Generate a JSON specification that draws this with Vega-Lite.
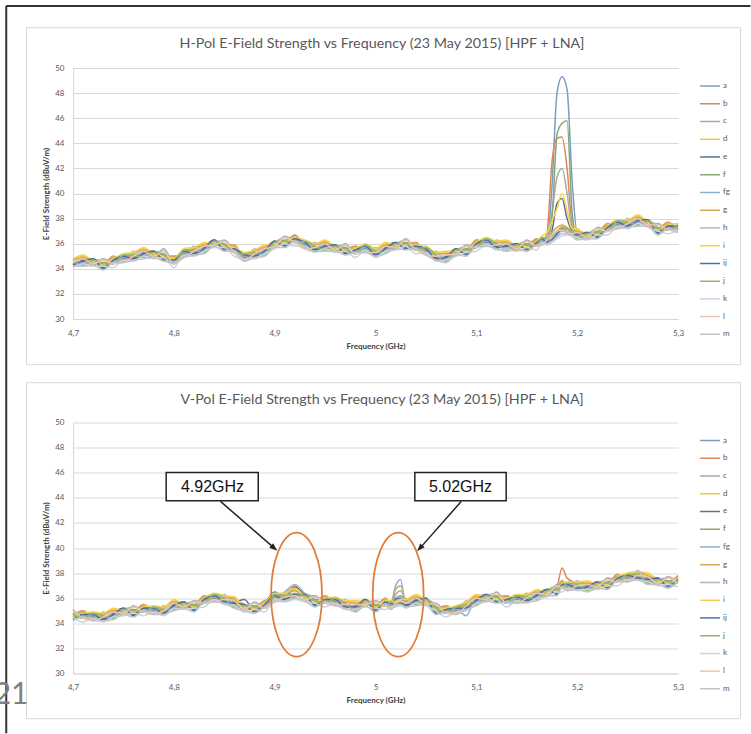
{
  "$schema": "https://vega.github.io/schema/vega-lite/v6.json",
  "background": "white",
  "padding": {"left": -7, "top": 4, "right": 0, "bottom": 0},
  "config": {
    "font": "Lato",
    "view": {"stroke": null},
    "axis": {"labelFont": "Lato", "labelFontSize": 8, "labelColor": "#595959", "titleFont": "Lato", "titleFontSize": 8, "titleFontWeight": "bold", "titleColor": "#404040", "ticks": false, "domainColor": "#d9d9d9", "gridColor": "#d9d9d9", "labelOverlap": false},
    "legend": {"labelFont": "Lato", "labelFontSize": 8, "labelColor": "#595959"}
  },
  "bounds": "flush",
  "spacing": 103.5,
  "resolve": {"legend": {"color": "independent"}},
  "datasets": {
    "H": [
      {"freq":4.70,"a":34.6,"b":34.3,"c":34.8,"d":34.7,"e":34.4,"f":34.5,"fg":34.2,"g":34.7,"h":34.9,"i":34.8,"ij":34.3,"j":34.6,"k":34.1,"l":34.5,"m":34.2},
      {"freq":4.71,"a":34.3,"b":34.8,"c":34.6,"d":35.0,"e":34.7,"f":34.4,"fg":34.8,"g":34.9,"h":34.5,"i":35.1,"ij":34.6,"j":34.3,"k":34.4,"l":34.8,"m":34.2},
      {"freq":4.72,"a":34.7,"b":34.8,"c":34.3,"d":34.6,"e":34.8,"f":34.7,"fg":34.4,"g":34.5,"h":34.7,"i":34.6,"ij":34.8,"j":34.7,"k":34.2,"l":34.4,"m":34.3},
      {"freq":4.73,"a":34.3,"b":34.4,"c":34.8,"d":34.2,"e":34.1,"f":34.5,"fg":34.4,"g":34.2,"h":34.7,"i":34.3,"ij":34.0,"j":34.4,"k":34.2,"l":34.7,"m":33.9},
      {"freq":4.74,"a":34.6,"b":35.0,"c":34.5,"d":34.9,"e":34.8,"f":34.5,"fg":34.4,"g":35.0,"h":34.6,"i":34.8,"ij":34.7,"j":34.4,"k":34.1,"l":34.4,"m":34.5},
      {"freq":4.75,"a":35.1,"b":34.7,"c":34.9,"d":34.8,"e":34.8,"f":35.1,"fg":34.9,"g":34.7,"h":34.6,"i":35.2,"ij":35.0,"j":35.1,"k":34.7,"l":34.5,"m":34.5},
      {"freq":4.76,"a":35.1,"b":34.8,"c":35.3,"d":35.2,"e":34.9,"f":35.0,"fg":34.7,"g":35.2,"h":35.4,"i":35.3,"ij":34.8,"j":35.1,"k":34.6,"l":35.0,"m":34.7},
      {"freq":4.77,"a":34.9,"b":35.4,"c":35.2,"d":35.6,"e":35.3,"f":35.0,"fg":35.4,"g":35.5,"h":35.1,"i":35.7,"ij":35.2,"j":34.9,"k":35.0,"l":35.4,"m":34.8},
      {"freq":4.78,"a":35.3,"b":35.4,"c":34.9,"d":35.2,"e":35.4,"f":35.3,"fg":35.0,"g":35.1,"h":35.3,"i":35.2,"ij":35.4,"j":35.3,"k":34.8,"l":35.0,"m":34.9},
      {"freq":4.79,"a":35.0,"b":35.1,"c":35.6,"d":34.9,"e":34.8,"f":35.2,"fg":35.1,"g":34.9,"h":35.4,"i":35.0,"ij":34.7,"j":35.1,"k":34.9,"l":35.4,"m":34.6},
      {"freq":4.80,"a":34.6,"b":35.0,"c":34.5,"d":34.9,"e":34.8,"f":34.5,"fg":34.4,"g":35.0,"h":34.6,"i":34.8,"ij":34.7,"j":34.4,"k":34.1,"l":34.4,"m":34.5},
      {"freq":4.81,"a":35.5,"b":35.1,"c":35.3,"d":35.2,"e":35.2,"f":35.5,"fg":35.3,"g":35.1,"h":35.0,"i":35.6,"ij":35.4,"j":35.5,"k":35.1,"l":34.9,"m":34.9},
      {"freq":4.82,"a":35.5,"b":35.2,"c":35.7,"d":35.6,"e":35.3,"f":35.4,"fg":35.1,"g":35.6,"h":35.8,"i":35.7,"ij":35.2,"j":35.5,"k":35.0,"l":35.4,"m":35.1},
      {"freq":4.83,"a":35.3,"b":35.8,"c":35.6,"d":36.0,"e":35.7,"f":35.4,"fg":35.8,"g":35.9,"h":35.5,"i":36.1,"ij":35.6,"j":35.3,"k":35.4,"l":35.8,"m":35.2},
      {"freq":4.84,"a":36.2,"b":36.3,"c":35.8,"d":36.1,"e":36.3,"f":36.2,"fg":35.9,"g":36.0,"h":36.2,"i":36.1,"ij":36.3,"j":36.2,"k":35.7,"l":35.9,"m":35.8},
      {"freq":4.85,"a":35.8,"b":35.9,"c":36.3,"d":35.7,"e":35.6,"f":36.0,"fg":35.9,"g":35.7,"h":36.2,"i":35.8,"ij":35.5,"j":35.9,"k":35.7,"l":36.2,"m":35.4},
      {"freq":4.86,"a":35.5,"b":35.9,"c":35.4,"d":35.8,"e":35.7,"f":35.4,"fg":35.3,"g":35.9,"h":35.5,"i":35.7,"ij":35.6,"j":35.3,"k":35.0,"l":35.3,"m":35.4},
      {"freq":4.87,"a":35.2,"b":34.8,"c":35.0,"d":34.9,"e":34.9,"f":35.2,"fg":35.0,"g":34.8,"h":34.7,"i":35.3,"ij":35.1,"j":35.2,"k":34.8,"l":34.6,"m":34.6},
      {"freq":4.88,"a":35.3,"b":35.0,"c":35.5,"d":35.4,"e":35.1,"f":35.2,"fg":34.9,"g":35.4,"h":35.6,"i":35.5,"ij":35.0,"j":35.3,"k":34.8,"l":35.2,"m":34.9},
      {"freq":4.89,"a":35.1,"b":35.6,"c":35.4,"d":35.8,"e":35.5,"f":35.2,"fg":35.6,"g":35.7,"h":35.3,"i":35.9,"ij":35.4,"j":35.1,"k":35.2,"l":35.6,"m":35.0},
      {"freq":4.90,"a":36.1,"b":36.2,"c":35.7,"d":36.0,"e":36.2,"f":36.1,"fg":35.8,"g":35.9,"h":36.1,"i":36.0,"ij":36.2,"j":36.1,"k":35.6,"l":35.8,"m":35.7},
      {"freq":4.91,"a":36.1,"b":36.2,"c":36.6,"d":36.0,"e":35.9,"f":36.3,"fg":36.2,"g":36.0,"h":36.5,"i":36.1,"ij":35.8,"j":36.2,"k":36.0,"l":36.5,"m":35.7},
      {"freq":4.92,"a":36.3,"b":36.7,"c":36.2,"d":36.6,"e":36.5,"f":36.2,"fg":36.1,"g":36.7,"h":36.3,"i":36.5,"ij":36.4,"j":36.1,"k":35.8,"l":36.1,"m":36.2},
      {"freq":4.93,"a":36.2,"b":35.8,"c":36.0,"d":35.9,"e":35.9,"f":36.2,"fg":36.0,"g":35.8,"h":35.7,"i":36.3,"ij":36.1,"j":36.2,"k":35.8,"l":35.6,"m":35.6},
      {"freq":4.94,"a":35.8,"b":35.5,"c":36.0,"d":35.9,"e":35.6,"f":35.7,"fg":35.4,"g":35.9,"h":36.1,"i":36.0,"ij":35.5,"j":35.8,"k":35.3,"l":35.7,"m":35.4},
      {"freq":4.95,"a":35.5,"b":36.0,"c":35.8,"d":36.2,"e":35.9,"f":35.6,"fg":36.0,"g":36.1,"h":35.7,"i":36.3,"ij":35.8,"j":35.5,"k":35.6,"l":36.0,"m":35.4},
      {"freq":4.96,"a":35.8,"b":35.9,"c":35.4,"d":35.7,"e":35.9,"f":35.8,"fg":35.5,"g":35.6,"h":35.8,"i":35.7,"ij":35.9,"j":35.8,"k":35.3,"l":35.5,"m":35.4},
      {"freq":4.97,"a":35.5,"b":35.6,"c":36.0,"d":35.4,"e":35.3,"f":35.7,"fg":35.6,"g":35.4,"h":35.9,"i":35.5,"ij":35.2,"j":35.6,"k":35.4,"l":35.9,"m":35.1},
      {"freq":4.98,"a":35.4,"b":35.8,"c":35.3,"d":35.7,"e":35.6,"f":35.3,"fg":35.2,"g":35.8,"h":35.4,"i":35.6,"ij":35.5,"j":35.2,"k":34.9,"l":35.2,"m":35.3},
      {"freq":4.99,"a":35.9,"b":35.5,"c":35.7,"d":35.6,"e":35.6,"f":35.9,"fg":35.7,"g":35.5,"h":35.4,"i":36.0,"ij":35.8,"j":35.9,"k":35.5,"l":35.3,"m":35.3},
      {"freq":5.00,"a":35.4,"b":35.1,"c":35.6,"d":35.5,"e":35.2,"f":35.3,"fg":35.0,"g":35.5,"h":35.7,"i":35.6,"ij":35.1,"j":35.4,"k":34.9,"l":35.3,"m":35.0},
      {"freq":5.01,"a":35.3,"b":35.8,"c":35.6,"d":36.0,"e":35.7,"f":35.4,"fg":35.8,"g":35.9,"h":35.5,"i":36.1,"ij":35.6,"j":35.3,"k":35.4,"l":35.8,"m":35.2},
      {"freq":5.02,"a":36.0,"b":36.1,"c":35.6,"d":35.9,"e":36.1,"f":36.0,"fg":35.7,"g":35.8,"h":36.0,"i":35.9,"ij":36.1,"j":36.0,"k":35.5,"l":35.7,"m":35.6},
      {"freq":5.03,"a":35.9,"b":36.0,"c":36.4,"d":35.8,"e":35.7,"f":36.1,"fg":36.0,"g":35.8,"h":36.3,"i":35.9,"ij":35.6,"j":36.0,"k":35.8,"l":36.3,"m":35.5},
      {"freq":5.04,"a":35.7,"b":36.1,"c":35.6,"d":36.0,"e":35.9,"f":35.6,"fg":35.5,"g":36.1,"h":35.7,"i":35.9,"ij":35.8,"j":35.5,"k":35.2,"l":35.5,"m":35.6},
      {"freq":5.05,"a":35.7,"b":35.3,"c":35.5,"d":35.4,"e":35.4,"f":35.7,"fg":35.5,"g":35.3,"h":35.2,"i":35.8,"ij":35.6,"j":35.7,"k":35.3,"l":35.1,"m":35.1},
      {"freq":5.06,"a":35.1,"b":34.8,"c":35.3,"d":35.2,"e":34.9,"f":35.0,"fg":34.7,"g":35.2,"h":35.4,"i":35.3,"ij":34.8,"j":35.1,"k":34.6,"l":35.0,"m":34.7},
      {"freq":5.07,"a":34.6,"b":35.1,"c":34.9,"d":35.3,"e":35.0,"f":34.7,"fg":35.1,"g":35.2,"h":34.8,"i":35.4,"ij":34.9,"j":34.6,"k":34.7,"l":35.1,"m":34.5},
      {"freq":5.08,"a":35.5,"b":35.6,"c":35.1,"d":35.4,"e":35.6,"f":35.5,"fg":35.2,"g":35.3,"h":35.5,"i":35.4,"ij":35.6,"j":35.5,"k":35.0,"l":35.2,"m":35.1},
      {"freq":5.09,"a":35.4,"b":35.5,"c":35.9,"d":35.3,"e":35.2,"f":35.6,"fg":35.5,"g":35.3,"h":35.8,"i":35.4,"ij":35.1,"j":35.5,"k":35.3,"l":35.8,"m":35.0},
      {"freq":5.10,"a":35.9,"b":36.3,"c":35.8,"d":36.2,"e":36.1,"f":35.8,"fg":35.7,"g":36.3,"h":35.9,"i":36.1,"ij":36.0,"j":35.7,"k":35.4,"l":35.7,"m":35.8},
      {"freq":5.11,"a":36.4,"b":36.0,"c":36.2,"d":36.1,"e":36.1,"f":36.4,"fg":36.2,"g":36.0,"h":35.9,"i":36.5,"ij":36.3,"j":36.4,"k":36.0,"l":35.8,"m":35.8},
      {"freq":5.12,"a":36.0,"b":35.7,"c":36.2,"d":36.1,"e":35.8,"f":35.9,"fg":35.6,"g":36.1,"h":36.3,"i":36.2,"ij":35.7,"j":36.0,"k":35.5,"l":35.9,"m":35.6},
      {"freq":5.13,"a":35.5,"b":36.0,"c":35.8,"d":36.2,"e":35.9,"f":35.6,"fg":36.0,"g":36.1,"h":35.7,"i":36.3,"ij":35.8,"j":35.5,"k":35.6,"l":36.0,"m":35.4},
      {"freq":5.14,"a":35.9,"b":36.0,"c":35.5,"d":35.8,"e":36.0,"f":35.9,"fg":35.6,"g":35.7,"h":35.9,"i":35.8,"ij":36.0,"j":35.9,"k":35.4,"l":35.6,"m":35.5},
      {"freq":5.15,"a":35.8,"b":35.9,"c":36.3,"d":35.7,"e":35.6,"f":36.0,"fg":35.9,"g":35.7,"h":36.2,"i":35.8,"ij":35.5,"j":35.9,"k":35.7,"l":36.2,"m":35.4},
      {"freq":5.16,"a":36.0,"b":36.4,"c":35.9,"d":36.3,"e":36.2,"f":35.9,"fg":35.8,"g":36.4,"h":36.0,"i":36.2,"ij":36.1,"j":35.8,"k":35.5,"l":35.8,"m":35.9},
      {"freq":5.165,"a":36.5,"b":36.1,"c":36.3,"d":36.2,"e":36.2,"f":36.5,"fg":36.3,"g":36.1,"h":36.0,"i":36.6,"ij":36.4,"j":36.5,"k":36.1,"l":35.9,"m":35.9},
      {"freq":5.17,"a":36.4,"b":36.8,"c":36.6,"d":36.5,"e":36.2,"f":36.3,"fg":36.0,"g":36.5,"h":36.7,"i":36.9,"ij":36.1,"j":36.4,"k":35.9,"l":36.3,"m":36.0},
      {"freq":5.175,"a":40.5,"b":42.5,"c":38.5,"d":36.8,"e":37.0,"f":38.0,"fg":36.4,"g":36.9,"h":36.6,"i":37.8,"ij":36.3,"j":36.6,"k":36.1,"l":36.7,"m":36.2},
      {"freq":5.18,"a":48.0,"b":44.4,"c":41.3,"d":37.0,"e":39.2,"f":44.7,"fg":36.6,"g":37.3,"h":36.9,"i":38.8,"ij":36.8,"j":37.0,"k":36.4,"l":37.0,"m":36.5},
      {"freq":5.185,"a":49.3,"b":44.5,"c":42.0,"d":37.4,"e":39.6,"f":45.6,"fg":37.1,"g":37.5,"h":37.0,"i":40.0,"ij":37.2,"j":37.3,"k":36.6,"l":37.1,"m":36.8},
      {"freq":5.19,"a":48.3,"b":42.0,"c":40.0,"d":37.2,"e":38.0,"f":45.8,"fg":37.2,"g":37.3,"h":36.9,"i":38.6,"ij":37.0,"j":37.2,"k":36.7,"l":37.0,"m":36.8},
      {"freq":5.195,"a":41.0,"b":37.6,"c":37.2,"d":36.9,"e":37.0,"f":38.5,"fg":36.9,"g":37.0,"h":36.8,"i":37.2,"ij":36.8,"j":36.9,"k":36.6,"l":36.8,"m":36.6},
      {"freq":5.20,"a":36.9,"b":36.9,"c":36.7,"d":37.1,"e":36.8,"f":36.5,"fg":36.9,"g":37.0,"h":36.6,"i":37.2,"ij":36.7,"j":36.4,"k":36.5,"l":36.9,"m":36.3},
      {"freq":5.21,"a":36.8,"b":36.9,"c":36.4,"d":36.7,"e":36.9,"f":36.8,"fg":36.5,"g":36.6,"h":36.8,"i":36.7,"ij":36.9,"j":36.8,"k":36.3,"l":36.5,"m":36.4},
      {"freq":5.22,"a":36.8,"b":36.9,"c":37.3,"d":36.7,"e":36.6,"f":37.0,"fg":36.9,"g":36.7,"h":37.2,"i":36.8,"ij":36.5,"j":36.9,"k":36.7,"l":37.2,"m":36.4},
      {"freq":5.23,"a":37.2,"b":37.6,"c":37.1,"d":37.5,"e":37.4,"f":37.1,"fg":37.0,"g":37.6,"h":37.2,"i":37.4,"ij":37.3,"j":37.0,"k":36.7,"l":37.0,"m":37.1},
      {"freq":5.24,"a":37.8,"b":37.4,"c":37.6,"d":37.5,"e":37.5,"f":37.8,"fg":37.6,"g":37.4,"h":37.3,"i":37.9,"ij":37.7,"j":37.8,"k":37.4,"l":37.2,"m":37.2},
      {"freq":5.25,"a":37.7,"b":37.4,"c":37.9,"d":37.8,"e":37.5,"f":37.6,"fg":37.3,"g":37.8,"h":38.0,"i":37.9,"ij":37.4,"j":37.7,"k":37.2,"l":37.6,"m":37.3},
      {"freq":5.26,"a":37.5,"b":38.0,"c":37.8,"d":38.2,"e":37.9,"f":37.6,"fg":38.0,"g":38.1,"h":37.7,"i":38.3,"ij":37.8,"j":37.5,"k":37.6,"l":38.0,"m":37.4},
      {"freq":5.27,"a":37.8,"b":37.9,"c":37.4,"d":37.7,"e":37.9,"f":37.8,"fg":37.5,"g":37.6,"h":37.8,"i":37.7,"ij":37.9,"j":37.8,"k":37.3,"l":37.5,"m":37.4},
      {"freq":5.28,"a":37.1,"b":37.2,"c":37.6,"d":37.0,"e":36.9,"f":37.3,"fg":37.2,"g":37.0,"h":37.5,"i":37.1,"ij":36.8,"j":37.2,"k":37.0,"l":37.5,"m":36.7},
      {"freq":5.29,"a":37.3,"b":37.7,"c":37.2,"d":37.6,"e":37.5,"f":37.2,"fg":37.1,"g":37.7,"h":37.3,"i":37.5,"ij":37.4,"j":37.1,"k":36.8,"l":37.1,"m":37.2},
      {"freq":5.30,"a":37.5,"b":37.1,"c":37.3,"d":37.2,"e":37.2,"f":37.5,"fg":37.3,"g":37.1,"h":37.0,"i":37.6,"ij":37.4,"j":37.5,"k":37.1,"l":36.9,"m":36.9}
    ],
    "V": [
      {"freq":4.70,"a":34.6,"b":34.7,"c":35.1,"d":34.5,"e":34.4,"f":34.8,"fg":34.7,"g":34.5,"h":35.0,"i":34.6,"ij":34.3,"j":34.7,"k":34.5,"l":35.0,"m":34.2},
      {"freq":4.71,"a":34.6,"b":35.0,"c":34.5,"d":34.9,"e":34.8,"f":34.5,"fg":34.4,"g":35.0,"h":34.6,"i":34.8,"ij":34.7,"j":34.4,"k":34.1,"l":34.4,"m":34.5},
      {"freq":4.72,"a":34.8,"b":34.4,"c":34.6,"d":34.5,"e":34.5,"f":34.8,"fg":34.6,"g":34.4,"h":34.3,"i":34.9,"ij":34.7,"j":34.8,"k":34.4,"l":34.2,"m":34.2},
      {"freq":4.73,"a":34.6,"b":34.3,"c":34.8,"d":34.7,"e":34.4,"f":34.5,"fg":34.2,"g":34.7,"h":34.9,"i":34.8,"ij":34.3,"j":34.6,"k":34.1,"l":34.5,"m":34.2},
      {"freq":4.74,"a":34.4,"b":34.9,"c":34.7,"d":35.1,"e":34.8,"f":34.5,"fg":34.9,"g":35.0,"h":34.6,"i":35.2,"ij":34.7,"j":34.4,"k":34.5,"l":34.9,"m":34.3},
      {"freq":4.75,"a":35.1,"b":35.2,"c":34.7,"d":35.0,"e":35.2,"f":35.1,"fg":34.8,"g":34.9,"h":35.1,"i":35.0,"ij":35.2,"j":35.1,"k":34.6,"l":34.8,"m":34.7},
      {"freq":4.76,"a":34.9,"b":35.0,"c":35.4,"d":34.8,"e":34.7,"f":35.1,"fg":35.0,"g":34.8,"h":35.3,"i":34.9,"ij":34.6,"j":35.0,"k":34.8,"l":35.3,"m":34.5},
      {"freq":4.77,"a":35.1,"b":35.5,"c":35.0,"d":35.4,"e":35.3,"f":35.0,"fg":34.9,"g":35.5,"h":35.1,"i":35.3,"ij":35.2,"j":34.9,"k":34.6,"l":34.9,"m":35.0},
      {"freq":4.78,"a":35.3,"b":34.9,"c":35.1,"d":35.0,"e":35.0,"f":35.3,"fg":35.1,"g":34.9,"h":34.8,"i":35.4,"ij":35.2,"j":35.3,"k":34.9,"l":34.7,"m":34.7},
      {"freq":4.79,"a":35.1,"b":34.8,"c":35.3,"d":35.2,"e":34.9,"f":35.0,"fg":34.7,"g":35.2,"h":35.4,"i":35.3,"ij":34.8,"j":35.1,"k":34.6,"l":35.0,"m":34.7},
      {"freq":4.80,"a":35.1,"b":35.6,"c":35.4,"d":35.8,"e":35.5,"f":35.2,"fg":35.6,"g":35.7,"h":35.3,"i":35.9,"ij":35.4,"j":35.1,"k":35.2,"l":35.6,"m":35.0},
      {"freq":4.81,"a":35.6,"b":35.7,"c":35.2,"d":35.5,"e":35.7,"f":35.6,"fg":35.3,"g":35.4,"h":35.6,"i":35.5,"ij":35.7,"j":35.6,"k":35.1,"l":35.3,"m":35.2},
      {"freq":4.82,"a":35.3,"b":35.4,"c":35.8,"d":35.2,"e":35.1,"f":35.5,"fg":35.4,"g":35.2,"h":35.7,"i":35.3,"ij":35.0,"j":35.4,"k":35.2,"l":35.7,"m":34.9},
      {"freq":4.83,"a":35.8,"b":36.2,"c":35.7,"d":36.1,"e":36.0,"f":35.7,"fg":35.6,"g":36.2,"h":35.8,"i":36.0,"ij":35.9,"j":35.6,"k":35.3,"l":35.6,"m":35.7},
      {"freq":4.84,"a":36.3,"b":35.9,"c":36.1,"d":36.0,"e":36.0,"f":36.3,"fg":36.1,"g":35.9,"h":35.8,"i":36.4,"ij":36.2,"j":36.3,"k":35.9,"l":35.7,"m":35.7},
      {"freq":4.85,"a":36.0,"b":35.7,"c":36.2,"d":36.1,"e":35.8,"f":35.9,"fg":35.6,"g":36.1,"h":36.3,"i":36.2,"ij":35.7,"j":36.0,"k":35.5,"l":35.9,"m":35.6},
      {"freq":4.86,"a":35.3,"b":35.8,"c":35.6,"d":36.0,"e":35.7,"f":35.4,"fg":36.1,"g":35.9,"h":35.5,"i":36.1,"ij":35.6,"j":35.3,"k":35.4,"l":35.8,"m":35.2},
      {"freq":4.87,"a":35.4,"b":35.5,"c":35.0,"d":35.3,"e":35.9,"f":35.4,"fg":35.1,"g":35.2,"h":35.4,"i":35.3,"ij":35.5,"j":35.4,"k":34.9,"l":35.1,"m":35.0},
      {"freq":4.88,"a":35.2,"b":35.3,"c":35.7,"d":35.1,"e":35.0,"f":35.4,"fg":35.3,"g":35.1,"h":35.6,"i":35.2,"ij":34.9,"j":35.3,"k":35.1,"l":35.6,"m":34.8},
      {"freq":4.89,"a":35.4,"b":35.8,"c":35.3,"d":35.7,"e":35.6,"f":35.3,"fg":35.2,"g":35.8,"h":35.4,"i":35.6,"ij":35.5,"j":35.2,"k":34.9,"l":35.2,"m":35.3},
      {"freq":4.90,"a":36.3,"b":35.9,"c":36.1,"d":36.0,"e":36.5,"f":36.3,"fg":36.1,"g":35.9,"h":35.8,"i":36.4,"ij":36.2,"j":36.3,"k":35.9,"l":35.7,"m":35.7},
      {"freq":4.91,"a":36.2,"b":35.9,"c":36.4,"d":36.3,"e":36.0,"f":36.1,"fg":35.8,"g":36.3,"h":36.5,"i":36.4,"ij":35.9,"j":36.2,"k":35.7,"l":36.1,"m":35.8},
      {"freq":4.92,"a":36.3,"b":36.1,"c":37.0,"d":36.7,"e":36.9,"f":36.2,"fg":36.0,"g":36.6,"h":37.1,"i":36.8,"ij":36.3,"j":36.4,"k":35.9,"l":36.2,"m":36.0},
      {"freq":4.93,"a":36.2,"b":36.3,"c":36.2,"d":36.1,"e":36.3,"f":36.2,"fg":35.9,"g":36.0,"h":36.4,"i":36.1,"ij":36.3,"j":36.2,"k":35.7,"l":35.9,"m":35.8},
      {"freq":4.94,"a":35.7,"b":35.8,"c":36.2,"d":35.6,"e":35.5,"f":35.9,"fg":35.8,"g":35.6,"h":36.1,"i":35.7,"ij":35.4,"j":35.8,"k":35.6,"l":36.1,"m":35.3},
      {"freq":4.95,"a":35.8,"b":36.2,"c":35.7,"d":36.1,"e":36.0,"f":35.7,"fg":35.6,"g":36.2,"h":35.8,"i":36.0,"ij":35.9,"j":35.6,"k":35.3,"l":35.6,"m":35.7},
      {"freq":4.96,"a":36.0,"b":35.6,"c":35.8,"d":35.7,"e":35.7,"f":36.0,"fg":35.8,"g":35.6,"h":35.5,"i":36.1,"ij":35.9,"j":36.0,"k":35.6,"l":35.4,"m":35.4},
      {"freq":4.97,"a":35.6,"b":35.3,"c":35.8,"d":35.7,"e":35.4,"f":35.5,"fg":35.2,"g":35.7,"h":35.9,"i":35.8,"ij":35.3,"j":35.6,"k":35.1,"l":35.5,"m":35.2},
      {"freq":4.98,"a":35.0,"b":35.5,"c":35.3,"d":35.7,"e":35.4,"f":35.1,"fg":35.5,"g":35.6,"h":35.2,"i":35.8,"ij":35.3,"j":35.0,"k":35.1,"l":35.5,"m":34.9},
      {"freq":4.99,"a":35.8,"b":35.9,"c":35.4,"d":35.7,"e":35.9,"f":35.8,"fg":35.5,"g":35.6,"h":35.8,"i":35.7,"ij":35.9,"j":35.8,"k":35.3,"l":35.5,"m":35.4},
      {"freq":5.00,"a":35.3,"b":35.4,"c":35.8,"d":35.2,"e":35.1,"f":35.5,"fg":35.4,"g":35.2,"h":35.7,"i":35.3,"ij":35.0,"j":35.4,"k":35.2,"l":35.7,"m":34.9},
      {"freq":5.01,"a":35.6,"b":36.0,"c":35.5,"d":35.9,"e":35.8,"f":35.5,"fg":35.4,"g":36.0,"h":35.6,"i":35.8,"ij":35.7,"j":35.4,"k":35.1,"l":35.4,"m":35.5},
      {"freq":5.015,"a":35.7,"b":35.3,"c":35.5,"d":35.4,"e":35.4,"f":35.7,"fg":35.5,"g":35.3,"h":35.2,"i":35.8,"ij":35.6,"j":35.7,"k":35.3,"l":35.1,"m":35.1},
      {"freq":5.02,"a":36.0,"b":35.8,"c":36.3,"d":35.7,"e":35.9,"f":35.6,"fg":37.0,"g":36.7,"h":35.8,"i":35.7,"ij":35.5,"j":35.5,"k":35.3,"l":35.6,"m":35.4},
      {"freq":5.025,"a":36.2,"b":35.9,"c":36.6,"d":35.8,"e":36.0,"f":35.7,"fg":37.5,"g":37.0,"h":35.9,"i":35.9,"ij":35.6,"j":35.7,"k":35.4,"l":35.8,"m":35.5},
      {"freq":5.03,"a":35.7,"b":35.4,"c":35.9,"d":35.8,"e":35.5,"f":35.6,"fg":35.3,"g":35.8,"h":36.0,"i":35.9,"ij":35.4,"j":35.7,"k":35.2,"l":35.6,"m":35.3},
      {"freq":5.04,"a":35.5,"b":36.0,"c":35.8,"d":36.2,"e":35.9,"f":35.6,"fg":36.0,"g":36.1,"h":35.7,"i":36.3,"ij":35.8,"j":35.5,"k":35.6,"l":36.0,"m":35.4},
      {"freq":5.05,"a":35.9,"b":36.0,"c":35.5,"d":35.8,"e":36.0,"f":35.9,"fg":35.6,"g":35.7,"h":35.9,"i":35.8,"ij":36.0,"j":35.9,"k":35.4,"l":35.6,"m":35.5},
      {"freq":5.06,"a":35.1,"b":35.2,"c":35.6,"d":35.0,"e":34.9,"f":35.3,"fg":35.2,"g":35.0,"h":35.5,"i":35.1,"ij":34.8,"j":35.2,"k":35.0,"l":35.5,"m":34.7},
      {"freq":5.07,"a":35.0,"b":35.4,"c":34.9,"d":35.3,"e":35.2,"f":34.9,"fg":34.8,"g":35.4,"h":35.0,"i":35.2,"ij":35.1,"j":34.8,"k":34.5,"l":34.8,"m":34.9},
      {"freq":5.08,"a":35.3,"b":34.9,"c":35.1,"d":35.0,"e":35.0,"f":35.3,"fg":35.1,"g":34.9,"h":34.8,"i":35.4,"ij":35.2,"j":35.3,"k":34.9,"l":34.7,"m":34.7},
      {"freq":5.09,"a":35.5,"b":35.2,"c":35.7,"d":35.6,"e":35.3,"f":35.4,"fg":34.6,"g":35.6,"h":35.8,"i":35.7,"ij":35.2,"j":35.5,"k":35.0,"l":35.4,"m":35.1},
      {"freq":5.10,"a":35.5,"b":36.0,"c":35.8,"d":36.2,"e":35.9,"f":35.6,"fg":36.0,"g":36.1,"h":35.7,"i":36.3,"ij":35.8,"j":35.5,"k":35.6,"l":36.0,"m":35.4},
      {"freq":5.11,"a":36.2,"b":36.3,"c":35.8,"d":36.1,"e":36.3,"f":36.2,"fg":35.9,"g":36.0,"h":36.2,"i":36.1,"ij":36.3,"j":36.2,"k":35.7,"l":35.9,"m":35.8},
      {"freq":5.12,"a":36.0,"b":36.1,"c":36.5,"d":35.9,"e":35.8,"f":36.2,"fg":36.1,"g":35.9,"h":36.4,"i":36.0,"ij":35.7,"j":36.1,"k":35.9,"l":36.4,"m":35.6},
      {"freq":5.13,"a":35.8,"b":36.2,"c":35.7,"d":36.1,"e":36.0,"f":35.7,"fg":35.6,"g":36.2,"h":35.8,"i":36.0,"ij":35.9,"j":35.6,"k":35.3,"l":35.6,"m":35.7},
      {"freq":5.14,"a":36.2,"b":35.8,"c":36.0,"d":35.9,"e":35.9,"f":36.2,"fg":36.0,"g":35.8,"h":35.7,"i":36.3,"ij":36.1,"j":36.2,"k":35.8,"l":35.6,"m":35.6},
      {"freq":5.15,"a":36.1,"b":35.8,"c":36.3,"d":36.2,"e":35.9,"f":36.0,"fg":35.7,"g":36.2,"h":36.4,"i":36.3,"ij":35.8,"j":36.1,"k":35.6,"l":36.0,"m":35.7},
      {"freq":5.16,"a":35.9,"b":36.4,"c":36.2,"d":36.6,"e":36.3,"f":36.0,"fg":36.4,"g":36.5,"h":36.1,"i":36.7,"ij":36.2,"j":35.9,"k":36.0,"l":36.4,"m":35.8},
      {"freq":5.17,"a":36.6,"b":36.7,"c":36.2,"d":36.5,"e":36.7,"f":36.6,"fg":36.3,"g":36.4,"h":36.6,"i":36.5,"ij":36.7,"j":36.6,"k":36.1,"l":36.3,"m":36.2},
      {"freq":5.18,"a":36.6,"b":37.0,"c":37.1,"d":36.5,"e":36.4,"f":36.8,"fg":36.9,"g":36.5,"h":37.0,"i":36.6,"ij":36.3,"j":36.7,"k":36.5,"l":37.0,"m":36.2},
      {"freq":5.185,"a":37.2,"b":38.4,"c":36.9,"d":37.3,"e":37.2,"f":36.9,"fg":37.4,"g":37.4,"h":37.0,"i":37.2,"ij":37.1,"j":36.8,"k":36.5,"l":36.8,"m":36.9},
      {"freq":5.19,"a":37.2,"b":37.6,"c":37.0,"d":36.9,"e":36.9,"f":37.2,"fg":37.0,"g":36.8,"h":36.7,"i":37.3,"ij":37.1,"j":37.2,"k":36.8,"l":36.6,"m":36.6},
      {"freq":5.20,"a":37.1,"b":37.2,"c":37.3,"d":37.2,"e":36.9,"f":37.0,"fg":36.7,"g":37.2,"h":37.4,"i":37.3,"ij":36.8,"j":37.1,"k":36.6,"l":37.0,"m":36.7},
      {"freq":5.21,"a":36.6,"b":37.1,"c":36.9,"d":37.3,"e":37.0,"f":36.7,"fg":37.1,"g":37.2,"h":36.8,"i":37.4,"ij":36.9,"j":36.6,"k":36.7,"l":37.1,"m":36.5},
      {"freq":5.22,"a":37.2,"b":37.3,"c":36.8,"d":37.1,"e":37.3,"f":37.2,"fg":36.9,"g":37.0,"h":37.2,"i":37.1,"ij":37.3,"j":37.2,"k":36.7,"l":36.9,"m":36.8},
      {"freq":5.23,"a":37.1,"b":37.2,"c":37.6,"d":37.0,"e":36.9,"f":37.3,"fg":37.2,"g":37.0,"h":37.5,"i":37.1,"ij":36.8,"j":37.2,"k":37.0,"l":37.5,"m":36.7},
      {"freq":5.24,"a":37.5,"b":37.9,"c":37.4,"d":37.8,"e":37.7,"f":37.4,"fg":37.3,"g":37.9,"h":37.5,"i":37.7,"ij":37.6,"j":37.3,"k":37.0,"l":37.3,"m":37.4},
      {"freq":5.25,"a":37.9,"b":37.5,"c":37.7,"d":37.6,"e":37.6,"f":37.9,"fg":37.7,"g":37.5,"h":37.4,"i":38.0,"ij":37.8,"j":37.9,"k":37.5,"l":37.3,"m":37.3},
      {"freq":5.26,"a":37.9,"b":37.6,"c":38.1,"d":38.0,"e":37.7,"f":37.8,"fg":37.5,"g":38.0,"h":38.2,"i":38.1,"ij":37.6,"j":37.9,"k":37.4,"l":37.8,"m":37.5},
      {"freq":5.27,"a":37.2,"b":37.7,"c":37.5,"d":37.9,"e":37.6,"f":37.3,"fg":37.7,"g":37.8,"h":37.4,"i":38.0,"ij":37.5,"j":37.2,"k":37.3,"l":37.7,"m":37.1},
      {"freq":5.28,"a":37.5,"b":37.6,"c":37.1,"d":37.4,"e":37.6,"f":37.5,"fg":37.2,"g":37.3,"h":37.5,"i":37.4,"ij":37.6,"j":37.5,"k":37.0,"l":37.2,"m":37.1},
      {"freq":5.29,"a":37.2,"b":37.3,"c":37.7,"d":37.1,"e":37.0,"f":37.4,"fg":37.3,"g":37.1,"h":37.6,"i":37.2,"ij":36.9,"j":37.3,"k":37.1,"l":37.6,"m":36.8},
      {"freq":5.30,"a":37.4,"b":37.8,"c":37.3,"d":37.7,"e":37.6,"f":37.3,"fg":37.2,"g":37.8,"h":37.4,"i":37.6,"ij":37.5,"j":37.2,"k":36.9,"l":37.2,"m":37.3}
    ]
  },
  "vconcat": [
    {
      "width": 605,
      "height": 251,
      "layer": [
        {
          "data": {"name": "H"},
          "transform": [{"fold": ["a","b","c","d","e","f","fg","g","h","i","ij","j","k","l","m"], "as": ["s","v"]}],
          "mark": {"type": "line", "strokeWidth": 1.5, "interpolate": "monotone"},
          "encoding": {
            "x": {"field": "freq", "type": "quantitative", "scale": {"domain": [4.7, 5.3], "nice": false, "zero": false},
                  "axis": {"title": "Frequency (GHz)", "values": [4.7,4.8,4.9,5,5.1,5.2,5.3], "labelExpr": "replace(format(datum.value,'~g'),'.',',')", "grid": false, "labelFlush": false, "labelOverlap": false, "labelPadding": 10, "titlePadding": 5}},
            "y": {"field": "v", "type": "quantitative", "scale": {"domain": [30, 50], "nice": false, "zero": false},
                  "axis": {"title": "E-Field Strength (dBuV/m)", "values": [30,32,34,36,38,40,42,44,46,48,50], "tickCount": 11, "grid": true, "labelOverlap": false, "labelFlush": false, "labelPadding": 9, "titlePadding": 4}},
            "color": {"field": "s", "type": "nominal",
                      "scale": {"domain": ["a","b","c","d","e","f","fg","g","h","i","ij","j","k","l","m"],
                                "range": ["#7a9cc6","#e0875a","#a9a9a9","#f2c542","#5f6f8f","#86a874","#87b3d0","#d4a75a","#b5b5b5","#f5d547","#4d6fb0","#8fba6c","#c5d5e6","#f2c4a8","#c4c4c4"]},
                      "legend": {"orient": "none", "legendX": 626, "legendY": 11, "title": null, "symbolType": "stroke", "symbolSize": 400, "symbolStrokeWidth": 1.5, "labelOffset": 2, "clipHeight": 14, "rowPadding": 3.74, "padding": 0}}
          }
        },
        {
          "data": {"values": [{}]},
          "mark": {"type": "rule", "color": "#333333", "strokeWidth": 2.2},
          "encoding": {"x": {"datum": 4.6338, "type": "quantitative"}, "x2": {"datum": 5.3719}, "y": {"datum": 54.94, "type": "quantitative"}}
        },
        {
          "data": {"values": [{}]},
          "mark": {"type": "rule", "color": "#333333", "strokeWidth": 2},
          "encoding": {"x": {"datum": 4.6338, "type": "quantitative"}, "y": {"datum": 54.948, "type": "quantitative"}, "y2": {"datum": -3.0}}
        },
        {
          "data": {"values": [{}]},
          "mark": {"type": "rect", "fill": "white", "fillOpacity": 0, "stroke": "#d9d9d9", "strokeWidth": 1},
          "encoding": {"x": {"datum": 4.6539, "type": "quantitative"}, "x2": {"datum": 5.362}, "y": {"datum": 53.21, "type": "quantitative"}, "y2": {"datum": 26.36}}
        },
        {
          "data": {"values": [{}]},
          "mark": {"type": "text", "font": "Lato", "fontSize": 14.3, "color": "#595959", "align": "center", "baseline": "middle"},
          "encoding": {"x": {"datum": 5.0064, "type": "quantitative"}, "y": {"datum": 51.91, "type": "quantitative"}, "text": {"value": "H-Pol E-Field Strength vs Frequency (23 May 2015) [HPF + LNA]"}}
        }
      ]
    },
    {
      "width": 605,
      "height": 251,
      "layer": [
        {
          "data": {"name": "V"},
          "transform": [{"fold": ["a","b","c","d","e","f","fg","g","h","i","ij","j","k","l","m"], "as": ["s","v"]}],
          "mark": {"type": "line", "strokeWidth": 1.5, "interpolate": "monotone"},
          "encoding": {
            "x": {"field": "freq", "type": "quantitative", "scale": {"domain": [4.7, 5.3], "nice": false, "zero": false},
                  "axis": {"title": "Frequency (GHz)", "values": [4.7,4.8,4.9,5,5.1,5.2,5.3], "labelExpr": "replace(format(datum.value,'~g'),'.',',')", "grid": false, "labelFlush": false, "labelOverlap": false, "labelPadding": 10, "titlePadding": 5}},
            "y": {"field": "v", "type": "quantitative", "scale": {"domain": [30, 50], "nice": false, "zero": false},
                  "axis": {"title": "E-Field Strength (dBuV/m)", "values": [30,32,34,36,38,40,42,44,46,48,50], "tickCount": 11, "grid": true, "labelOverlap": false, "labelFlush": false, "labelPadding": 9, "titlePadding": 4}},
            "color": {"field": "s", "type": "nominal",
                      "scale": {"domain": ["a","b","c","d","e","f","fg","g","h","i","ij","j","k","l","m"],
                                "range": ["#7a9cc6","#e0875a","#a9a9a9","#f2c542","#5f6f8f","#86a874","#87b3d0","#d4a75a","#b5b5b5","#f5d547","#4d6fb0","#8fba6c","#c5d5e6","#f2c4a8","#c4c4c4"]},
                      "legend": {"orient": "none", "legendX": 626, "legendY": 11, "title": null, "symbolType": "stroke", "symbolSize": 400, "symbolStrokeWidth": 1.5, "labelOffset": 2, "clipHeight": 14, "rowPadding": 3.74, "padding": 0}}
          }
        },
        {
          "data": {"values": [{}]},
          "mark": {"type": "rect", "fill": "white", "fillOpacity": 0, "stroke": "#d9d9d9", "strokeWidth": 1},
          "encoding": {"x": {"datum": 4.6539, "type": "quantitative"}, "x2": {"datum": 5.362}, "y": {"datum": 53.17, "type": "quantitative"}, "y2": {"datum": 26.40}}
        },
        {
          "data": {"values": [{}]},
          "mark": {"type": "text", "font": "Lato", "fontSize": 14.3, "color": "#595959", "align": "center", "baseline": "middle"},
          "encoding": {"x": {"datum": 5.0066, "type": "quantitative"}, "y": {"datum": 51.79, "type": "quantitative"}, "text": {"value": "V-Pol E-Field Strength vs Frequency (23 May 2015) [HPF + LNA]"}}
        },
        {
          "data": {"values": [{}]},
          "mark": {"type": "point", "shape": "M -0.411 0 A 0.411 1 0 1 1 0.411 0 A 0.411 1 0 1 1 -0.411 0 Z", "size": 15376, "filled": false, "stroke": "#e07b39", "strokeWidth": 1.75, "opacity": 1},
          "encoding": {"x": {"datum": 4.9217, "type": "quantitative"}, "y": {"datum": 36.28, "type": "quantitative"}}
        },
        {
          "data": {"values": [{}]},
          "mark": {"type": "point", "shape": "M -0.411 0 A 0.411 1 0 1 1 0.411 0 A 0.411 1 0 1 1 -0.411 0 Z", "size": 15376, "filled": false, "stroke": "#e07b39", "strokeWidth": 1.75, "opacity": 1},
          "encoding": {"x": {"datum": 5.0225, "type": "quantitative"}, "y": {"datum": 36.28, "type": "quantitative"}}
        },
        {
          "data": {"values": [{}]},
          "mark": {"type": "rule", "color": "#222222", "strokeWidth": 1.5},
          "encoding": {"x": {"datum": 4.8463, "type": "quantitative"}, "y": {"datum": 43.71, "type": "quantitative"}, "x2": {"datum": 4.8988}, "y2": {"datum": 40.05}}
        },
        {
          "data": {"values": [{}]},
          "mark": {"type": "point", "shape": "M 0 -1 L 0.6 0.6 L -0.6 0.6 Z", "size": 100, "filled": true, "color": "#222222", "opacity": 1, "angle": 131},
          "encoding": {"x": {"datum": 4.8988, "type": "quantitative"}, "y": {"datum": 40.05, "type": "quantitative"}}
        },
        {
          "data": {"values": [{}]},
          "mark": {"type": "rule", "color": "#222222", "strokeWidth": 1.5},
          "encoding": {"x": {"datum": 5.085, "type": "quantitative"}, "y": {"datum": 43.71, "type": "quantitative"}, "x2": {"datum": 5.0446}, "y2": {"datum": 40.03}}
        },
        {
          "data": {"values": [{}]},
          "mark": {"type": "point", "shape": "M 0 -1 L 0.6 0.6 L -0.6 0.6 Z", "size": 100, "filled": true, "color": "#222222", "opacity": 1, "angle": 221.4},
          "encoding": {"x": {"datum": 5.0446, "type": "quantitative"}, "y": {"datum": 40.03, "type": "quantitative"}}
        },
        {
          "data": {"values": [{}]},
          "mark": {"type": "rect", "fill": "white", "stroke": "#222222", "strokeWidth": 1.5},
          "encoding": {"x": {"datum": 4.7924, "type": "quantitative"}, "x2": {"datum": 4.8837}, "y": {"datum": 46.02, "type": "quantitative"}, "y2": {"datum": 43.77}}
        },
        {
          "data": {"values": [{}]},
          "mark": {"type": "rect", "fill": "white", "stroke": "#222222", "strokeWidth": 1.5},
          "encoding": {"x": {"datum": 5.039, "type": "quantitative"}, "x2": {"datum": 5.1296}, "y": {"datum": 46.02, "type": "quantitative"}, "y2": {"datum": 43.77}}
        },
        {
          "data": {"values": [{}]},
          "mark": {"type": "text", "font": "Liberation Sans", "fontSize": 16, "color": "#111111", "align": "center", "baseline": "middle"},
          "encoding": {"x": {"datum": 4.8383, "type": "quantitative"}, "y": {"datum": 44.88, "type": "quantitative"}, "text": {"value": "4.92GHz"}}
        },
        {
          "data": {"values": [{}]},
          "mark": {"type": "text", "font": "Liberation Sans", "fontSize": 16, "color": "#111111", "align": "center", "baseline": "middle"},
          "encoding": {"x": {"datum": 5.0843, "type": "quantitative"}, "y": {"datum": 44.88, "type": "quantitative"}, "text": {"value": "5.02GHz"}}
        },
        {
          "data": {"values": [{}]},
          "mark": {"type": "text", "font": "Lato", "fontSize": 30, "color": "#808080", "align": "right", "baseline": "alphabetic"},
          "encoding": {"x": {"datum": 4.65587, "type": "quantitative"}, "y": {"datum": 27.57, "type": "quantitative"}, "text": {"value": "21"}}
        }
      ]
    }
  ]
}
